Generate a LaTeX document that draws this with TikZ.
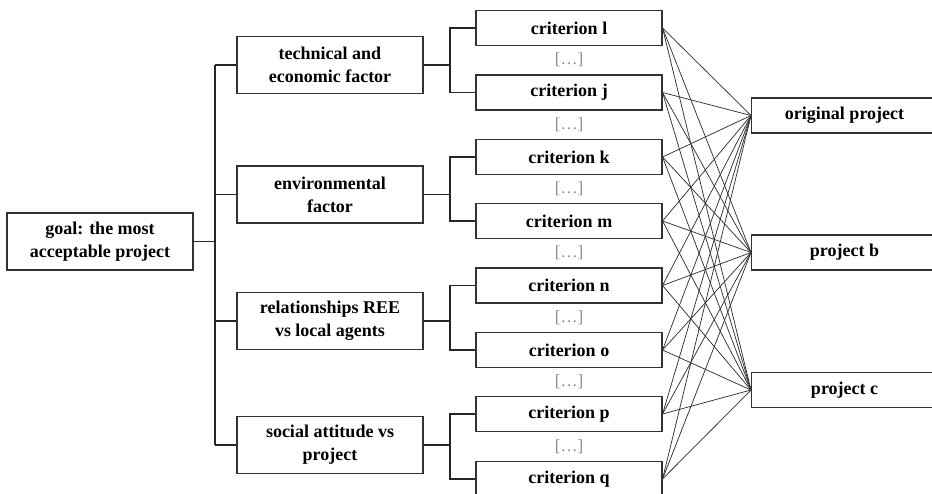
\documentclass[tikz,border=0pt]{standalone}
\usepackage{fontspec}
\setmainfont{Liberation Serif}
\begin{document}
\begin{tikzpicture}[x=1pt,y=-1pt,
  box/.style={draw=black!80,line width=1.1pt,fill=white,inner sep=0pt,align=center,
    font=\fontsize{18}{23}\selectfont\bfseries},
  conn/.style={draw=black!85,line width=1.1pt},
  web/.style={draw=black!80,line width=0.75pt},
  dots/.style={text=black!45,font=\fontsize{17}{18}\selectfont}]
\useasboundingbox (0,0) rectangle (932,493);
% goal
\node[box,minimum width=186pt,minimum height=57pt] (goal) at (100,241.5) {goal: the most\\acceptable project};
% factors
\foreach \n/\y/\t in {f1/65/{technical and\\economic factor},f2/194.5/{environmental\\factor},f3/321/{relationships REE\\vs local agents},f4/445/{social attitude vs\\project}}
  \node[box,minimum width=186pt,minimum height=57pt] (\n) at (330,\y) {\t};
% criteria
\foreach \n/\y/\t in {c1/28/criterion l,c2/92.5/criterion j,c3/157/criterion k,c4/221/criterion m,c5/285.5/criterion n,c6/350/criterion o,c7/414/criterion p,c8/479/criterion q}
  \node[box,minimum width=186pt,minimum height=35pt] (\n) at (569,\y) {\t};
% dots
\foreach \i/\y in {d1/60,d2/124.5,d3/189,d4/253,d5/318,d6/382,d7/446.5}
  \node[dots] (\i) at (569,\y) {[…]};
% projects
\foreach \n/\y/\t in {p1/115.5/original project,p2/252.5/project b,p3/390/project c}
  \node[box,minimum width=186pt,minimum height=35pt,anchor=west] (\n) at (751,\y) {\t};
% trunk
\coordinate (tr) at (215,0);
\draw[conn] (goal.east) -- (goal.east -| tr);
\draw[conn] (f1.west -| tr) -- (f4.west -| tr);
\foreach \f in {f1,f2,f3,f4} \draw[conn] (\f.west -| tr) -- (\f.west);
% brackets
\coordinate (br) at (450,0);
\foreach \f/\a/\b in {f1/c1/c2,f2/c3/c4,f3/c5/c6,f4/c7/c8}{
  \draw[conn] (\f.east) -- (\f.east -| br);
  \draw[conn] (\a.west) -- (\a.west -| br) -- (\b.west -| br) -- (\b.west);
}
% web
\foreach \c in {c1,c2,c3,c4,c5,c6,c7,c8}
  \foreach \p in {p1,p2,p3}
    \draw[web] (\c.east) -- (\p.west);
\end{tikzpicture}
\end{document}
